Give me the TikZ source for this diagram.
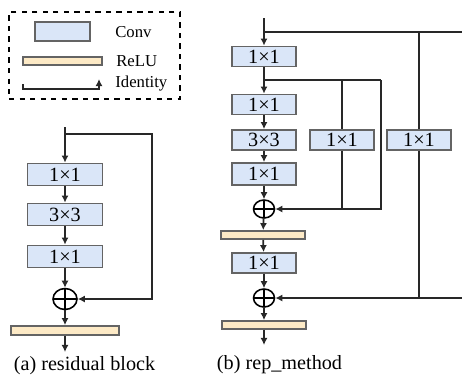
\documentclass[tikz,border=0pt]{standalone}
\usepackage{fontspec}
\setmainfont{Liberation Serif}
\usetikzlibrary{arrows.meta,positioning,calc,shapes.geometric}
\definecolor{convfill}{RGB}{218,230,248}
\definecolor{relufill}{RGB}{253,234,198}
\definecolor{edgegray}{RGB}{100,100,100}
\definecolor{linegray}{RGB}{40,40,40}

\begin{document}
\begin{tikzpicture}[x=0.02cm,y=-0.02cm,>={Latex[length=4pt,width=4pt]},
conv/.style={draw=edgegray,line width=1pt,fill=convfill,inner sep=0pt,font=\fontsize{11.5}{13}\selectfont,minimum width=1.28cm,minimum height=0.4cm},
bigconv/.style={conv,minimum width=1.5cm,minimum height=0.44cm},
relu/.style={draw=edgegray,line width=1pt,fill=relufill,inner sep=0pt,minimum width=1.68cm,minimum height=0.16cm},
addop/.style={ellipse,draw=black,line width=0.9pt,inner sep=0pt,minimum width=0.42cm,minimum height=0.36cm,
  path picture={\draw[line width=0.9pt] (path picture bounding box.north)--(path picture bounding box.south)
  (path picture bounding box.west)--(path picture bounding box.east);}},
flow/.style={->,line width=1pt,draw=linegray},
wire/.style={line width=1pt,draw=linegray},
lab/.style={font=\fontsize{9.5}{11}\selectfont,anchor=west,inner sep=0pt},
caption/.style={font=\fontsize{11.5}{13}\selectfont,inner sep=0pt}]
\useasboundingbox (0,0) rectangle (462,376);
% legend
\node[draw=black,dashed,line width=0.9pt,minimum width=3.42cm,minimum height=1.74cm] (legend) at (94.5,55.5) {};
\node[conv,minimum width=1.1cm,minimum height=0.38cm] (lgconv) at (62.5,31.5) {};
\node[lab] (lgconvlab) at (115,32) {Conv};
\node[relu,minimum width=1.58cm] (lgrelu) at (62.5,61) {};
\node[lab] (lgrelulab) at (116,61) {ReLU};
\coordinate (lgidA) at (23,84);
\coordinate (lgidB) at (99,89);
\coordinate (lgidC) at (99,79);
\draw[flow] (lgidA)--(lgidA|-lgidB)--(lgidB)--(lgidC);
\node[lab] (lgidlab) at (115,84) {Identity};
% (a) residual block
\coordinate (aIn) at (65,127);
\coordinate (aSplit) at (65,134);
\coordinate (aRight) at (152,134);
\node[bigconv] (a1) at (65,174.5) {1×1};
\node[bigconv] (a2) at (65,214.5) {3×3};
\node[bigconv] (a3) at (65,256.5) {1×1};
\node[addop,minimum width=0.48cm,minimum height=0.42cm] (aAdd) at (65,299) {};
\node[relu,minimum width=2.16cm,minimum height=0.18cm] (aRelu) at (65,330.5) {};
\coordinate (aOut) at (65,352);
\node[caption] (acap) at (84.5,366) {(a) residual block};
\draw[flow] (aIn)--(a1);
\draw[flow] (a1)--(a2);
\draw[flow] (a2)--(a3);
\draw[flow] (a3)--(aAdd);
\draw[flow] (aAdd)--(aRelu);
\draw[flow] (aRelu)--(aOut);
\draw[flow] (aSplit)--(aRight)|-(aAdd);
% (b) rep_method
\coordinate (bIn) at (264,18);
\coordinate (bSplit1) at (264,32);
\coordinate (bTopEdge) at (462,32);
\coordinate (bTapR) at (419,32);
\node[conv] (b1) at (264,56.5) {1×1};
\coordinate (bSplit2) at (264,80);
\coordinate (bTapM) at (342,80);
\coordinate (bCorner) at (381,80);
\node[conv] (b2) at (264,104.5) {1×1};
\node[conv] (b3) at (264,140) {3×3};
\node[conv] (bM) at (342,140) {1×1};
\node[conv] (bR) at (419,140) {1×1};
\node[conv,minimum height=0.44cm] (b4) at (264,174) {1×1};
\node[addop] (bAdd1) at (264,209) {};
\coordinate (bJoinM) at (342,209);
\node[relu] (bRelu1) at (263,235) {};
\node[conv] (b5) at (264,263) {1×1};
\node[addop] (bAdd2) at (264,298) {};
\coordinate (bJoinR) at (419,298);
\coordinate (bBotEdge) at (462,298);
\node[relu] (bRelu2) at (264,325) {};
\coordinate (bOut) at (264,345);
\node[caption] (bcap) at (279.5,365) {(b) rep\_method};
\draw[flow] (bIn)--(b1);
\draw[wire] (bSplit1)--(bTopEdge);
\draw[wire] (bTapR)--(bR);
\draw[wire] (bR)--(bJoinR);
\draw[flow] (bBotEdge)--(bAdd2);
\draw[flow] (b1)--(b2);
\draw[wire] (bSplit2)--(bCorner);
\draw[flow] (bCorner)|-(bAdd1);
\draw[wire] (bTapM)--(bM);
\draw[wire] (bM)--(bJoinM);
\draw[flow] (b2)--(b3);
\draw[flow] (b3)--(b4);
\draw[flow] (b4)--(bAdd1);
\draw[flow] (bAdd1)--(bRelu1);
\draw[flow] (bRelu1)--(b5);
\draw[flow] (b5)--(bAdd2);
\draw[flow] (bAdd2)--(bRelu2);
\draw[flow] (bRelu2)--(bOut);
\end{tikzpicture}
\end{document}
